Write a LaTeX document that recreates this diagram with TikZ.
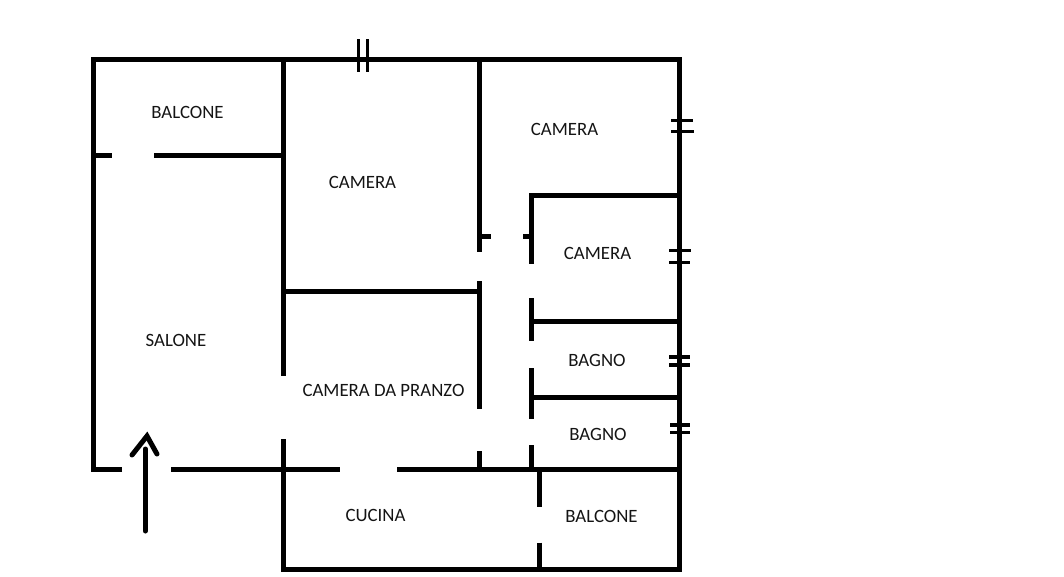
\documentclass[tikz,border=0pt]{standalone}
\usepackage{fontspec}
\setmainfont{Carlito}
\usepackage{xcolor}
\tikzset{
    wall/.style={line width=5pt, black},
    tick/.style={line width=3.2pt, black},
    roomlabel/.style={font=\fontsize{18.8}{20}\selectfont, text=black!92, inner sep=0pt},
}

\begin{document}
\begin{tikzpicture}[x=1pt, y=-1pt]
    \useasboundingbox (0,0) rectangle (1064,576);
    % Outer walls
    \draw[wall, line join=miter] (122,469) -- (93.5,469) -- (93.5,59.5) -- (679.6,59.5) -- (679.6,569) -- (283.7,569);
    % Left part
    \draw[wall] (94,155.5) -- (112,155.5);
    \draw[wall] (154,155.5) -- (284,155.5);
    \draw[wall] (283.7,59) -- (283.7,375.7);
    \draw[wall, line cap=rect] (283.7,441) -- (283.7,569);
    \draw[wall] (171,469) -- (340,469);
    \draw[wall] (397,469) -- (680,469);
    \draw[wall] (284,291.3) -- (479,291.3);
    % Corridor
    \draw[wall] (479.3,59) -- (479.3,251.7);
    \draw[wall] (479.3,236.3) -- (491,236.3);
    \draw[wall] (523,236.3) -- (531,236.3);
    \draw[wall] (479.3,281.3) -- (479.3,409);
    \draw[wall] (479.3,451) -- (479.3,469);
    \draw[wall] (531.3,193.3) -- (531.3,263.7);
    \draw[wall] (531.3,298) -- (531.3,341);
    \draw[wall] (531.3,368) -- (531.3,418.7);
    \draw[wall] (531.3,445) -- (531.3,469);
    % Rooms on the right
    \draw[wall] (529,195.7) -- (680,195.7);
    \draw[wall] (531,321.3) -- (680,321.3);
    \draw[wall] (531,397.3) -- (680,397.3);
    \draw[wall] (539.5,469) -- (539.5,506.7);
    \draw[wall] (539.5,542.7) -- (539.5,569);
    % Break marks
    \draw[tick] (358.7,39) -- (358.7,72);
    \draw[tick] (367.5,39) -- (367.5,72);
    \draw[tick] (671,120.3) -- (693,120.3);
    \draw[tick] (671,131.7) -- (694,131.7);
    \draw[tick] (669,250.7) -- (691,250.7);
    \draw[tick] (669,262.3) -- (690,262.3);
    \draw[tick] (669,357) -- (690,357);
    \draw[tick] (669,365) -- (690,365);
    \draw[tick] (670,425) -- (690,425);
    \draw[tick] (670,432.7) -- (690,432.7);
    % Entrance arrow
    \draw[wall, line cap=round] (145.3,449) -- (145.3,531);
    \draw[wall, line cap=round, line join=miter] (132,455) -- (147,436) -- (157,454);
    % Room names
    \node[roomlabel] (balconeleft) at (187.5,112.3) {BALCONE};
    \node[roomlabel] (cameratop) at (564.5,129.3) {CAMERA};
    \node[roomlabel] (cameraleft) at (362.5,182.3) {CAMERA};
    \node[roomlabel] (cameraright) at (597.5,253.3) {CAMERA};
    \node[roomlabel] (salone) at (176,340.3) {SALONE};
    \node[roomlabel] (pranzo) at (383.5,390.3) {CAMERA DA PRANZO};
    \node[roomlabel] (bagnotop) at (597,360.3) {BAGNO};
    \node[roomlabel] (bagnolow) at (598,434.3) {BAGNO};
    \node[roomlabel] (cucina) at (375.5,515.3) {CUCINA};
    \node[roomlabel] (balconeright) at (601.5,516.3) {BALCONE};
\end{tikzpicture}
\end{document}
